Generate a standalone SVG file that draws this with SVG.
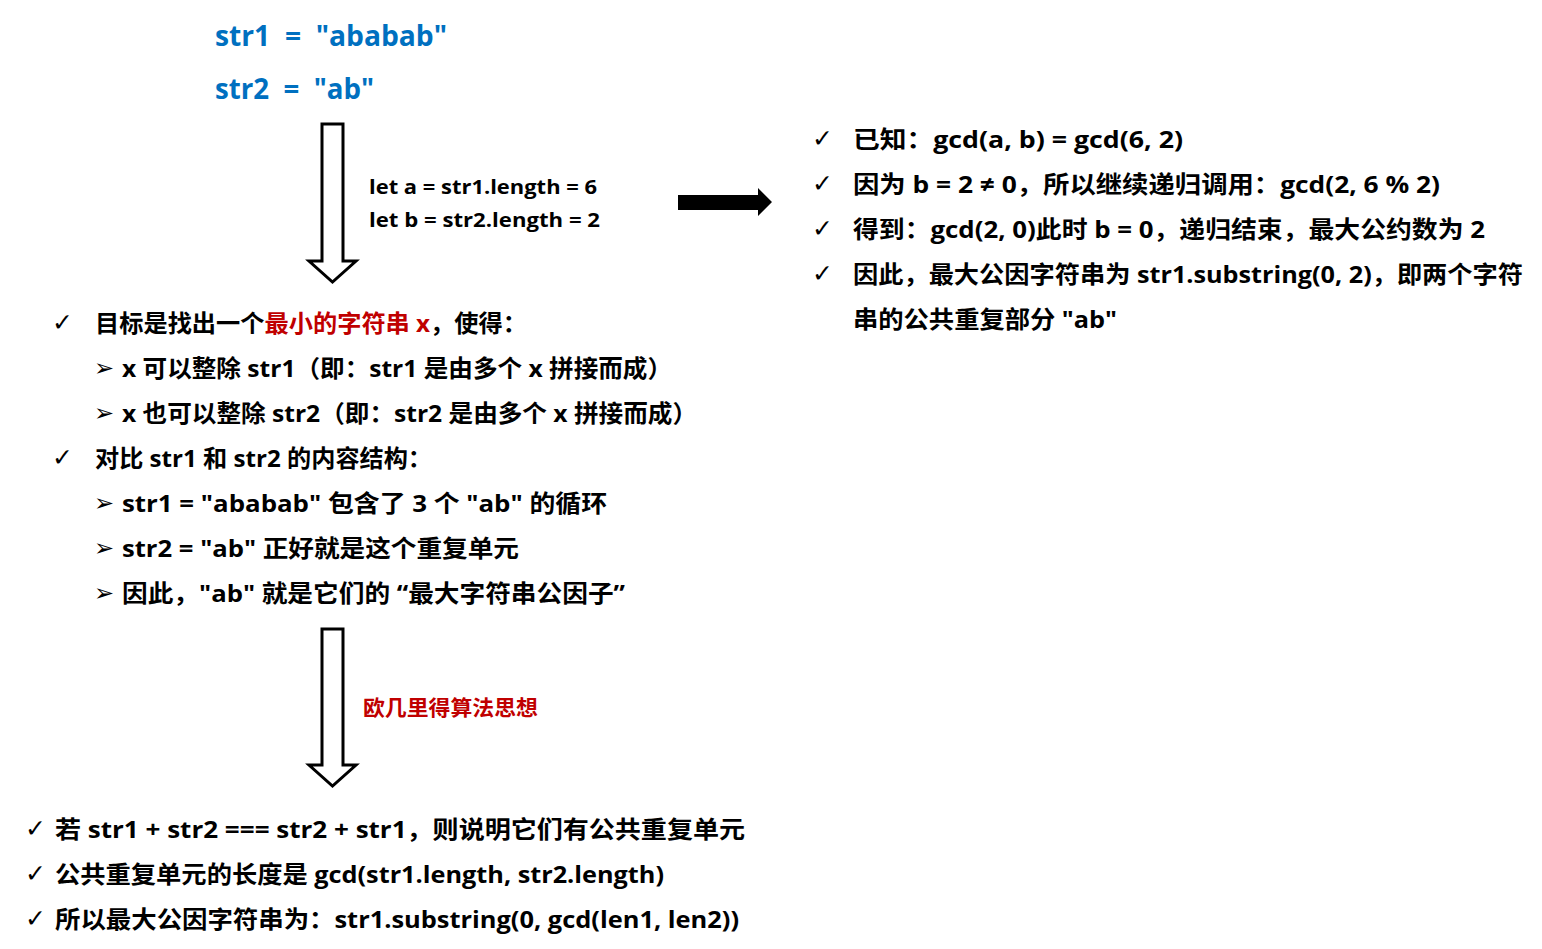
<svg xmlns="http://www.w3.org/2000/svg" width="1542" height="949" viewBox="0 0 1542 949">
<style>
.t{font-family:"Open Sans","Noto Sans CJK SC",sans-serif;font-weight:bold;fill:#000;white-space:pre}
.b{font-size:24px}
.title{font-size:28px;fill:#0070C0}
.let{font-size:20px}
.red{fill:#C00000}
.ck{font-family:"DejaVu Sans",sans-serif;font-size:25px;fill:#000}
.ar{font-family:"DejaVu Sans",sans-serif;font-size:24px;fill:#000}
.hollow{fill:#fff;stroke:#000;stroke-width:3;stroke-linejoin:miter}
</style>
<rect width="1542" height="949" fill="#fff"/>
<g id="title">
<text class="t title" x="215" y="46" textLength="232" lengthAdjust="spacingAndGlyphs">str1  =  "ababab"</text>
<text class="t title" x="215" y="99" textLength="159" lengthAdjust="spacingAndGlyphs">str2  =  "ab"</text>
</g>
<g id="connectors">
<path class="hollow" d="M322,124 H343 V261 H356 L332.5,282 L309,261 H322 Z"/>
<path class="hollow" d="M322,629 H343 V765 H356 L332.5,786 L309,765 H322 Z"/>
<polygon points="678,195 758,195 758,188 772,202 758,216 758,210 678,210" fill="#000"/>
</g>
<g id="lengths">
<text class="t let" x="369" y="194" textLength="228" lengthAdjust="spacingAndGlyphs">let a = str1.length = 6</text>
<text class="t let" x="369" y="227" textLength="231" lengthAdjust="spacingAndGlyphs">let b = str2.length = 2</text>
</g>
<g id="gcd-steps">
<text class="ck" x="812" y="147">✓</text>
<text class="ck" x="812" y="192">✓</text>
<text class="ck" x="812" y="237">✓</text>
<text class="ck" x="812" y="282">✓</text>
<text class="t b" x="853" y="148" textLength="330" lengthAdjust="spacingAndGlyphs">已知：gcd(a, b) = gcd(6, 2)</text>
<text class="t b" x="853" y="193" textLength="587" lengthAdjust="spacingAndGlyphs">因为 b = 2 ≠ 0，所以继续递归调用：gcd(2, 6 % 2)</text>
<text class="t b" x="853" y="238" textLength="632" lengthAdjust="spacingAndGlyphs">得到：gcd(2, 0)此时 b = 0，递归结束，最大公约数为 2</text>
<text class="t b" x="853" y="283" textLength="670" lengthAdjust="spacingAndGlyphs">因此，最大公因字符串为 str1.substring(0, 2)，即两个字符</text>
<text class="t b" x="853" y="328" textLength="264" lengthAdjust="spacingAndGlyphs">串的公共重复部分 "ab"</text>
</g>
<g id="analysis">
<text class="ck" x="52" y="331">✓</text>
<text class="t b" x="95" y="332" textLength="432" lengthAdjust="spacingAndGlyphs">目标是找出一个<tspan class="red">最小的字符串 x</tspan>，使得：</text>
<text class="ar" x="94" y="376">➢</text>
<text class="t b" x="122" y="377" textLength="550" lengthAdjust="spacingAndGlyphs">x 可以整除 str1（即：str1 是由多个 x 拼接而成）</text>
<text class="ar" x="94" y="421">➢</text>
<text class="t b" x="122" y="422" textLength="575" lengthAdjust="spacingAndGlyphs">x 也可以整除 str2（即：str2 是由多个 x 拼接而成）</text>
<text class="ck" x="52" y="466">✓</text>
<text class="t b" x="95" y="467" textLength="337" lengthAdjust="spacingAndGlyphs">对比 str1 和 str2 的内容结构：</text>
<text class="ar" x="94" y="511">➢</text>
<text class="t b" x="122" y="512" textLength="485" lengthAdjust="spacingAndGlyphs">str1 = "ababab" 包含了 3 个 "ab" 的循环</text>
<text class="ar" x="94" y="556">➢</text>
<text class="t b" x="122" y="557" textLength="397" lengthAdjust="spacingAndGlyphs">str2 = "ab" 正好就是这个重复单元</text>
<text class="ar" x="94" y="601">➢</text>
<text class="t b" x="122" y="602" textLength="503" lengthAdjust="spacingAndGlyphs">因此，"ab" 就是它们的 “最大字符串公因子”</text>
</g>
<g id="euclid-label">
<text class="t red" x="363" y="715" font-size="21" textLength="175" lengthAdjust="spacingAndGlyphs">欧几里得算法思想</text>
</g>
<g id="conclusion">
<text class="ck" x="25" y="837">✓</text>
<text class="t b" x="55" y="838" textLength="690" lengthAdjust="spacingAndGlyphs">若 str1 + str2 === str2 + str1，则说明它们有公共重复单元</text>
<text class="ck" x="25" y="882">✓</text>
<text class="t b" x="55" y="883" textLength="609" lengthAdjust="spacingAndGlyphs">公共重复单元的长度是 gcd(str1.length, str2.length)</text>
<text class="ck" x="25" y="927">✓</text>
<text class="t b" x="55" y="928" textLength="684" lengthAdjust="spacingAndGlyphs">所以最大公因字符串为：str1.substring(0, gcd(len1, len2))</text>
</g>
</svg>
